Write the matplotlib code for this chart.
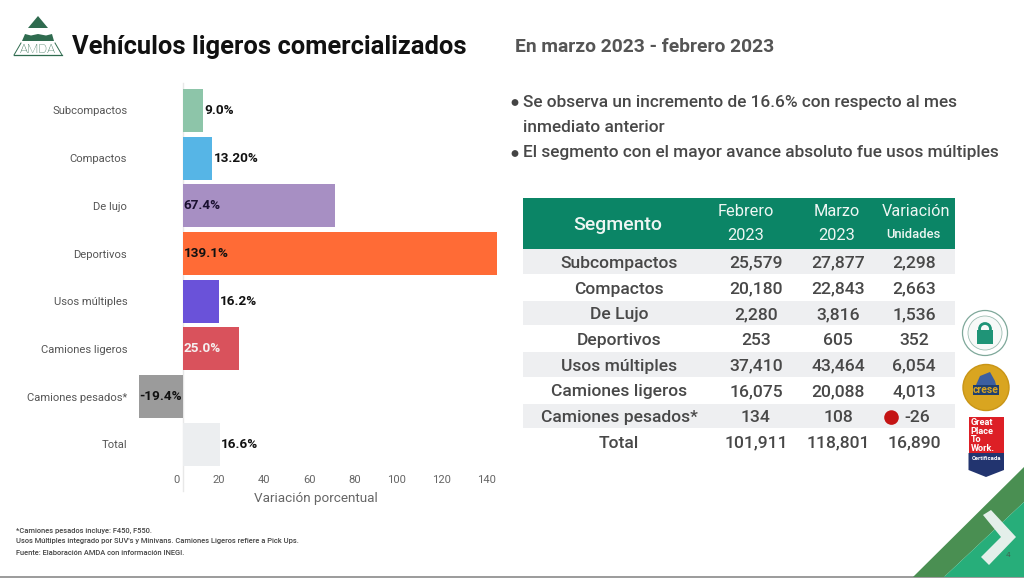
import matplotlib
matplotlib.use("Agg")
import matplotlib.pyplot as plt
from matplotlib.patches import Rectangle, Polygon, Circle
from matplotlib.transforms import ScaledTranslation

plt.rcParams['font.family'] = ['Roboto', 'DejaVu Sans']

categories = ["Subcompactos", "Compactos", "De lujo", "Deportivos", "Usos múltiples",
              "Camiones ligeros", "Camiones pesados*", "Total"]
variation = [9.0, 13.2, 67.4, 139.1, 16.2, 25.0, -19.4, 16.6]
bar_labels = ["9.0%", "13.20%", "67.4%", "139.1%", "16.2%", "25.0%", "-19.4%", "16.6%"]
bar_colors = ["#8DC5A9", "#56B5E6", "#A78FC3", "#FF6B36", "#6A52D9", "#D9525C", "#9B9B9B", "#ECEEF0"]
label_colors = ["#111111", "#111111", "#1A1030", "#111111", "#111111", "#F5F0F0", "#111111", "#111111"]
label_inside = [False, False, True, True, False, True, True, False]
xticks = [0, 20, 40, 60, 80, 100, 120, 140]

segments = ["Subcompactos", "Compactos", "De Lujo", "Deportivos", "Usos múltiples",
            "Camiones ligeros", "Camiones pesados*", "Total"]
feb = ["25,579", "20,180", "2,280", "253", "37,410", "16,075", "134", "101,911"]
mar = ["27,877", "22,843", "3,816", "605", "43,464", "20,088", "108", "118,801"]
var_units = ["2,298", "2,663", "1,536", "352", "6,054", "4,013", "-26", "16,890"]

W, H = 1024, 578
fig = plt.figure(figsize=(W / 100, H / 100), dpi=100, facecolor="white")

# page layer in pixel coordinates
bg = fig.add_axes([0, 0, 1, 1])
bg.set_xlim(0, W)
bg.set_ylim(H, 0)
bg.axis("off")

# chart
left, right, top, bottom = 130, 505, 86.6, 468.2
ax = fig.add_axes([left / W, 1 - bottom / H, (right - left) / W, (bottom - top) / H])
ax.patch.set_alpha(0)
scale = 2.26
ax.set_xlim((left - 182.5) / scale, (right - 182.5) / scale)
ypos = list(range(len(categories)))
ax.set_ylim(len(categories) - 0.5, -0.5)
ax.barh(ypos, variation, height=0.9, color=bar_colors, zorder=2)
for s in ax.spines.values():
    s.set_visible(False)
ax.axvline(0, ymin=-0.06, ymax=1.01, color="#E8E8E8", lw=1, clip_on=False, zorder=1)
ax.set_yticks(ypos, categories, fontsize=8.1, color="#555555")
ax.tick_params(axis="y", length=0, pad=2.0)
ax.set_xticks(xticks, [str(t) for t in xticks], fontsize=8.1, color="#666666", ha="right")
ax.tick_params(axis="x", length=0, pad=4.6)
off = ScaledTranslation(-2 / 72, 0, fig.dpi_scale_trans)
for lab in ax.get_xticklabels():
    lab.set_transform(lab.get_transform() + off)
ax.set_xlabel("Variación porcentual", fontsize=9.7, color="#666666", labelpad=5.4, x=0.495)
for y, v, t, c, inside in zip(ypos, variation, bar_labels, label_colors, label_inside):
    if v < 0:
        x, ha = 0, "right"
        dx = -0.7
    elif inside:
        x, ha = 0, "left"
        dx = 0.8
    else:
        x, ha = v, "left"
        dx = 0.8
    ax.annotate(t, (x, y), xytext=(dx, 0), textcoords="offset points", ha=ha, va="center",
                fontsize=9.7, fontweight="bold", color=c, zorder=3)

# titles
bg.text(72, 47, "Vehículos ligeros comercializados", fontsize=18.4, fontweight="bold",
        color="#111111", va="center", ha="left")
bg.text(515, 47, "En marzo 2023 - febrero 2023", fontsize=13.9, fontweight="bold",
        color="#555555", va="center", ha="left")

# logo
g = "#2F6B4F"
bg.add_patch(Polygon([(38, 16), (48, 28), (28, 28)], color=g, lw=0))
bg.add_patch(Polygon([(25, 34), (31, 35.5), (38, 34), (46, 35.5), (52, 34), (54, 41), (22, 41)], color=g, lw=0))
bg.plot([14, 62], [55.2, 55.2], color=g, lw=0.9)
bg.plot([14, 21], [55, 43], color=g, lw=0.7)
bg.plot([55, 62], [43, 55], color=g, lw=0.7)
bg.text(38, 49.5, "AMDA", fontsize=9.6, color=g, ha="center", va="center", fontweight="light")

# bullets
bullet_color = "#484848"
for y, x0, t, mark in [(102, 523, "Se observa un incremento de 16.6% con respecto al mes", True),
                       (127.5, 523, "inmediato anterior", False),
                       (153, 523, "El segmento con el mayor avance absoluto fue usos múltiples", True)]:
    bg.text(x0, y, t, fontsize=12.45, color=bullet_color, va="center", ha="left", fontweight="medium")
    if mark:
        bg.add_patch(Circle((515, y + 0.5), 3.4, color="#444444", lw=0))

# table
tx0, tx1 = 523, 954.5
head_top, head_bot = 198, 249.3
row_h = 25.7
col_seg, col_feb, col_mar, col_var = 619, 756, 838, 914
bg.add_patch(Rectangle((tx0, head_top), tx1 - tx0, head_bot - head_top, color="#0B8566", lw=0))
hc = "#EEF6F3"
bg.text(618, 225, "Segmento", fontsize=14, color=hc, ha="center", va="center", fontweight="medium")
bg.text(745.5, 212, "Febrero", fontsize=11.8, color=hc, ha="center", va="center")
bg.text(745.5, 236, "2023", fontsize=11.8, color=hc, ha="center", va="center")
bg.text(837, 212, "Marzo", fontsize=11.8, color=hc, ha="center", va="center")
bg.text(837, 236, "2023", fontsize=11.8, color=hc, ha="center", va="center")
bg.text(916, 212, "Variación", fontsize=11.7, color=hc, ha="center", va="center")
bg.text(913, 234, "Unidades", fontsize=9.4, color=hc, ha="center", va="center", fontweight="medium")
for i, (a, b, c, d) in enumerate(zip(segments, feb, mar, var_units)):
    y0 = head_bot + i * row_h
    yc = y0 + row_h / 2 + 1.2
    if i % 2 == 0 and i < 7:
        bg.add_patch(Rectangle((tx0, y0), tx1 - tx0, row_h - 1, color="#EEEFF1", lw=0))
    tc = "#484848"
    for x, s in [(col_seg, a), (col_feb, b), (col_mar, c), (col_var + (3 if d == "-26" else 0), d)]:
        bg.text(x, yc, s, fontsize=12.6, color=tc, ha="center", va="center", fontweight="medium")
    if d == "-26":
        bg.add_patch(Circle((891.5, yc), 7.3, color="#C41414", lw=0))

# footnotes
for y, t in [(531, "*Camiones pesados incluye: F450, F550."),
             (541.5, "Usos Múltiples integrado por SUV's y Minivans. Camiones Ligeros refiere a Pick Ups."),
             (553, "Fuente: Elaboración AMDA con información INEGI.")]:
    bg.text(16, y, t, fontsize=5.45, color="#444444", fontweight="medium", va="center", ha="left")
bg.plot([0, W], [577.3, 577.3], color="#8A8A8A", lw=1.2, zorder=1)

# badges
bg.add_patch(Circle((985, 333), 22.5, facecolor="white", edgecolor="#7FA89A", lw=0.9))
bg.add_patch(Circle((985, 333), 17, facecolor="#F7F9F8", edgecolor="#9DBDB2", lw=0.6))
bg.add_patch(Rectangle((977, 330), 16, 14, color="#1F9477", lw=0))
bg.add_patch(Circle((985, 329), 5.5, facecolor="none", edgecolor="#1F9477", lw=2))
bg.add_patch(Circle((986, 387.5), 23, facecolor="#D9A520", edgecolor="#C99516", lw=1))
bg.add_patch(Polygon([(980, 376), (990, 372), (995, 381), (996, 385), (976, 385)], color="#3C5FA0", lw=0))
bg.add_patch(Rectangle((973, 385), 26, 10, color="#1E3F70", lw=0))
bg.text(986, 390, "crese", fontsize=7.5, fontweight="bold", color="#D9A520", ha="center", va="center")
bg.add_patch(Rectangle((968.5, 417), 35.5, 36, color="#DD1F26", lw=0))
bg.add_patch(Polygon([(968.5, 453), (1004, 453), (1004, 470), (986, 477), (968.5, 470)], color="#22346F", lw=0))
for y, t in [(422.5, "Great"), (431.5, "Place"), (440, "To"), (448.5, "Work.")]:
    bg.text(970.5, y, t, fontsize=6.6, fontweight="bold", color="white", ha="left", va="center")
bg.text(986, 459, "Certificada", fontsize=4.2, fontweight="bold", color="white", ha="center", va="center")

# corner
bg.add_patch(Polygon([(1024, 467), (1024, 502), (944, 577), (913, 577)], color="#4A8F52", lw=0))
bg.add_patch(Polygon([(1024, 502), (1024, 577), (944, 577)], color="#27AE7A", lw=0))
bg.add_patch(Polygon([(983, 515), (991, 510), (1016, 537), (989, 565), (981, 557), (1001, 537)],
                     color="#E4EFEA", lw=0))
bg.text(1008, 555, "4", fontsize=6, color="#3E6A56", ha="center", va="center")

fig.savefig("out.png", dpi=100, facecolor="white")
